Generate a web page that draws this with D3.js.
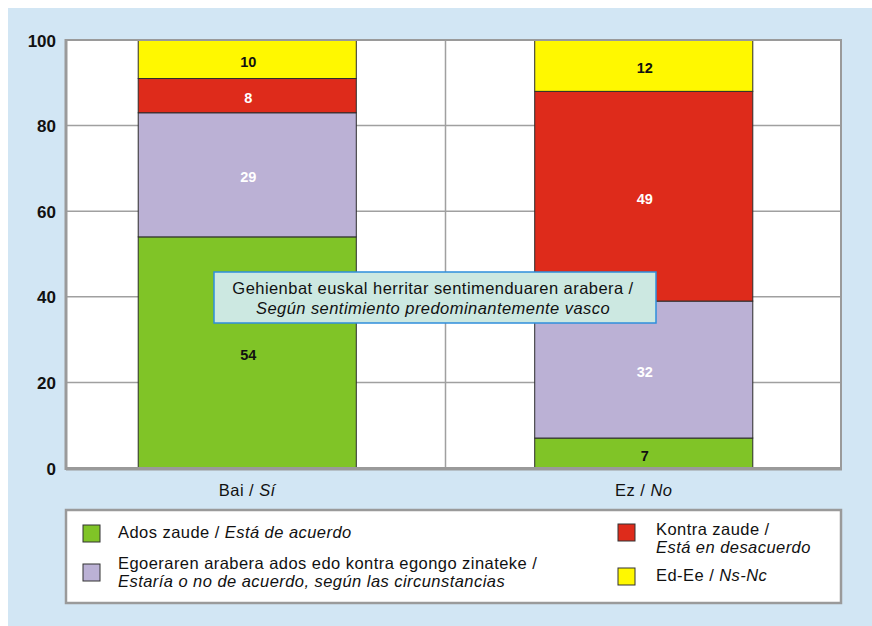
<!DOCTYPE html>
<html>
<head>
<meta charset="utf-8">
<title>Ados / Kontra</title>
<script src="https://cdn.jsdelivr.net/npm/d3@7"></script>
<style>
  body { margin: 0; background: #fff; font-family: "Liberation Sans", Arial, sans-serif; }
  .seg-label { font-weight: bold; font-size: 14.5px; text-anchor: middle; }
  .cat-label, .leg-text, .note-text { font-size: 16.5px; fill: #111; letter-spacing: 0.45px; }
</style>
</head>
<body>
<script>
// data
var categories = ["Bai", "Ez"];
var categoriesEs = ["Sí", "No"];
var seriesKeys = ["ados", "egoera", "kontra", "edee"];
var adosValues = [54, 7];
var egoeraValues = [29, 32];
var kontraValues = [8, 49];
var edeeValues = [10, 12];
var yTicks = [0, 20, 40, 60, 80, 100];

var colors = { ados: "#80c427", egoera: "#bbb1d5", kontra: "#de2b1b", edee: "#fff800" };
var labelColors = { ados: "#111", egoera: "#fff", kontra: "#fff", edee: "#111" };

var width = 872, height = 626;
var plot = { left: 66, right: 841, top: 40, bottom: 468 };

var svg = d3.select("body").append("svg").attr("width", width).attr("height", height);

// light blue panel
svg.append("rect").attr("x", 8).attr("y", 8).attr("width", width - 8).attr("height", height - 8)
  .attr("fill", "#d2e6f4");

svg.append("rect").attr("x", plot.left).attr("y", plot.top)
  .attr("width", plot.right - plot.left).attr("height", plot.bottom - plot.top)
  .attr("fill", "#fff");

var rows = categories.map(function (c, i) {
  return { cat: c, ados: adosValues[i], egoera: egoeraValues[i], kontra: kontraValues[i], edee: edeeValues[i] };
});

var x = d3.scaleBand().domain(categories).range([49, 842]).paddingInner(0.45).paddingOuter(0.225);
var y = d3.scaleLinear().domain([0, 100]).range([plot.bottom, plot.top]);

// gridlines
svg.append("g").selectAll("line").data(yTicks.filter(function (d) { return d > 0 && d < 100; }))
  .enter().append("line")
  .attr("x1", plot.left).attr("x2", plot.right)
  .attr("y1", function (d) { return y(d); }).attr("y2", function (d) { return y(d); })
  .attr("stroke", "#a0a0a0").attr("stroke-width", 1.5);

// vertical separator between categories
var sep = (x("Bai") + x.bandwidth() + x("Ez")) / 2;
svg.append("line").attr("x1", sep).attr("x2", sep).attr("y1", plot.top).attr("y2", plot.bottom)
  .attr("stroke", "#a0a0a0").attr("stroke-width", 1.5);

var stacked = d3.stack().keys(seriesKeys)(rows);

var layer = svg.append("g").selectAll("g").data(stacked).enter().append("g")
  .attr("fill", function (d) { return colors[d.key]; });

layer.selectAll("rect").data(function (d) { return d; }).enter().append("rect")
  .attr("x", function (d) { return x(d.data.cat); })
  .attr("width", x.bandwidth())
  .attr("y", function (d) { return y(Math.min(d[1], 100)); })
  .attr("height", function (d) { return y(d[0]) - y(Math.min(d[1], 100)); })
  .attr("stroke", "#2b2b2b").attr("stroke-width", 1);

layer.selectAll("text").data(function (d) { return d.map(function (p) { p.key = d.key; return p; }); })
  .enter().append("text")
  .attr("class", "seg-label")
  .attr("x", function (d) { return x(d.data.cat) + x.bandwidth() / 2 + 1; })
  .attr("y", function (d) { return y((d[0] + Math.min(d[1], 100)) / 2) + 7.5; })
  .attr("fill", function (d) { return labelColors[d.key]; })
  .text(function (d) { return d.data[d.key]; });

// frame
svg.append("rect").attr("x", plot.left).attr("y", plot.top)
  .attr("width", plot.right - plot.left).attr("height", plot.bottom - plot.top)
  .attr("fill", "none").attr("stroke", "#9a9a9a").attr("stroke-width", 2);
svg.append("line").attr("x1", plot.left).attr("x2", plot.left).attr("y1", plot.top - 1).attr("y2", plot.bottom + 2)
  .attr("stroke", "#9a9a9a").attr("stroke-width", 3);
svg.append("line").attr("x1", plot.left).attr("x2", plot.right + 1).attr("y1", plot.bottom + 1).attr("y2", plot.bottom + 1)
  .attr("stroke", "#9a9a9a").attr("stroke-width", 3);

// y axis labels
var yAxis = d3.axisLeft(y).tickValues(yTicks).tickSize(0).tickPadding(10);
var gy = svg.append("g").attr("transform", "translate(" + plot.left + ",0)").call(yAxis);
gy.select(".domain").remove();
gy.selectAll("text").attr("font-family", "Liberation Sans, Arial, sans-serif")
  .attr("font-size", 17).attr("font-weight", "bold").attr("fill", "#111").attr("dy", "0.36em");

// x labels
var xl = svg.append("g").selectAll("text").data(categories).enter().append("text")
  .attr("class", "cat-label")
  .attr("x", function (d) { return x(d) + x.bandwidth() / 2; })
  .attr("y", 496).attr("text-anchor", "middle");
xl.append("tspan").text(function (d) { return d + " / "; });
xl.append("tspan").attr("font-style", "italic").text(function (d, i) { return categoriesEs[i]; });

// annotation box
svg.append("rect").attr("x", 214).attr("y", 272).attr("width", 442).attr("height", 51)
  .attr("fill", "#cce8e1").attr("stroke", "#2f8edb").attr("stroke-width", 1.5);
svg.append("text").attr("class", "note-text").attr("x", 433).attr("y", 294).attr("text-anchor", "middle")
  .text("Gehienbat euskal herritar sentimenduaren arabera /");
svg.append("text").attr("class", "note-text").attr("x", 433).attr("y", 314).attr("text-anchor", "middle")
  .attr("font-style", "italic").text("Según sentimiento predominantemente vasco");

// legend
svg.append("rect").attr("x", 66).attr("y", 510).attr("width", 775).attr("height", 93)
  .attr("fill", "#fff").attr("stroke", "#9a9a9a").attr("stroke-width", 2.5);

var legendItems = [
  { key: "ados", sx: 83, sy: 525, tx: 118, lines: [["Ados zaude / ", "Está de acuerdo"]], ty: 538 },
  { key: "egoera", sx: 83, sy: 564, tx: 118, lines: [["Egoeraren arabera ados edo kontra egongo zinateke /", ""], ["", "Estaría o no de acuerdo, según las circunstancias"]], ty: 569 },
  { key: "kontra", sx: 618, sy: 524, tx: 656, lines: [["Kontra zaude /", ""], ["", "Está en desacuerdo"]], ty: 535 },
  { key: "edee", sx: 618, sy: 568, tx: 656, lines: [["Ed-Ee / ", "Ns-Nc"]], ty: 581 }
];

var leg = svg.append("g").selectAll("g").data(legendItems).enter().append("g");
leg.append("rect")
  .attr("x", function (d) { return d.sx; }).attr("y", function (d) { return d.sy; })
  .attr("width", 17).attr("height", 17)
  .attr("fill", function (d) { return colors[d.key]; })
  .attr("stroke", "#333").attr("stroke-width", 1);
leg.each(function (d) {
  var g = d3.select(this);
  d.lines.forEach(function (ln, i) {
    var t = g.append("text").attr("class", "leg-text").attr("x", d.tx).attr("y", d.ty + i * 18);
    if (ln[0]) t.append("tspan").text(ln[0]);
    if (ln[1]) t.append("tspan").attr("font-style", "italic").text(ln[1]);
  });
});
</script>
</body>
</html>
